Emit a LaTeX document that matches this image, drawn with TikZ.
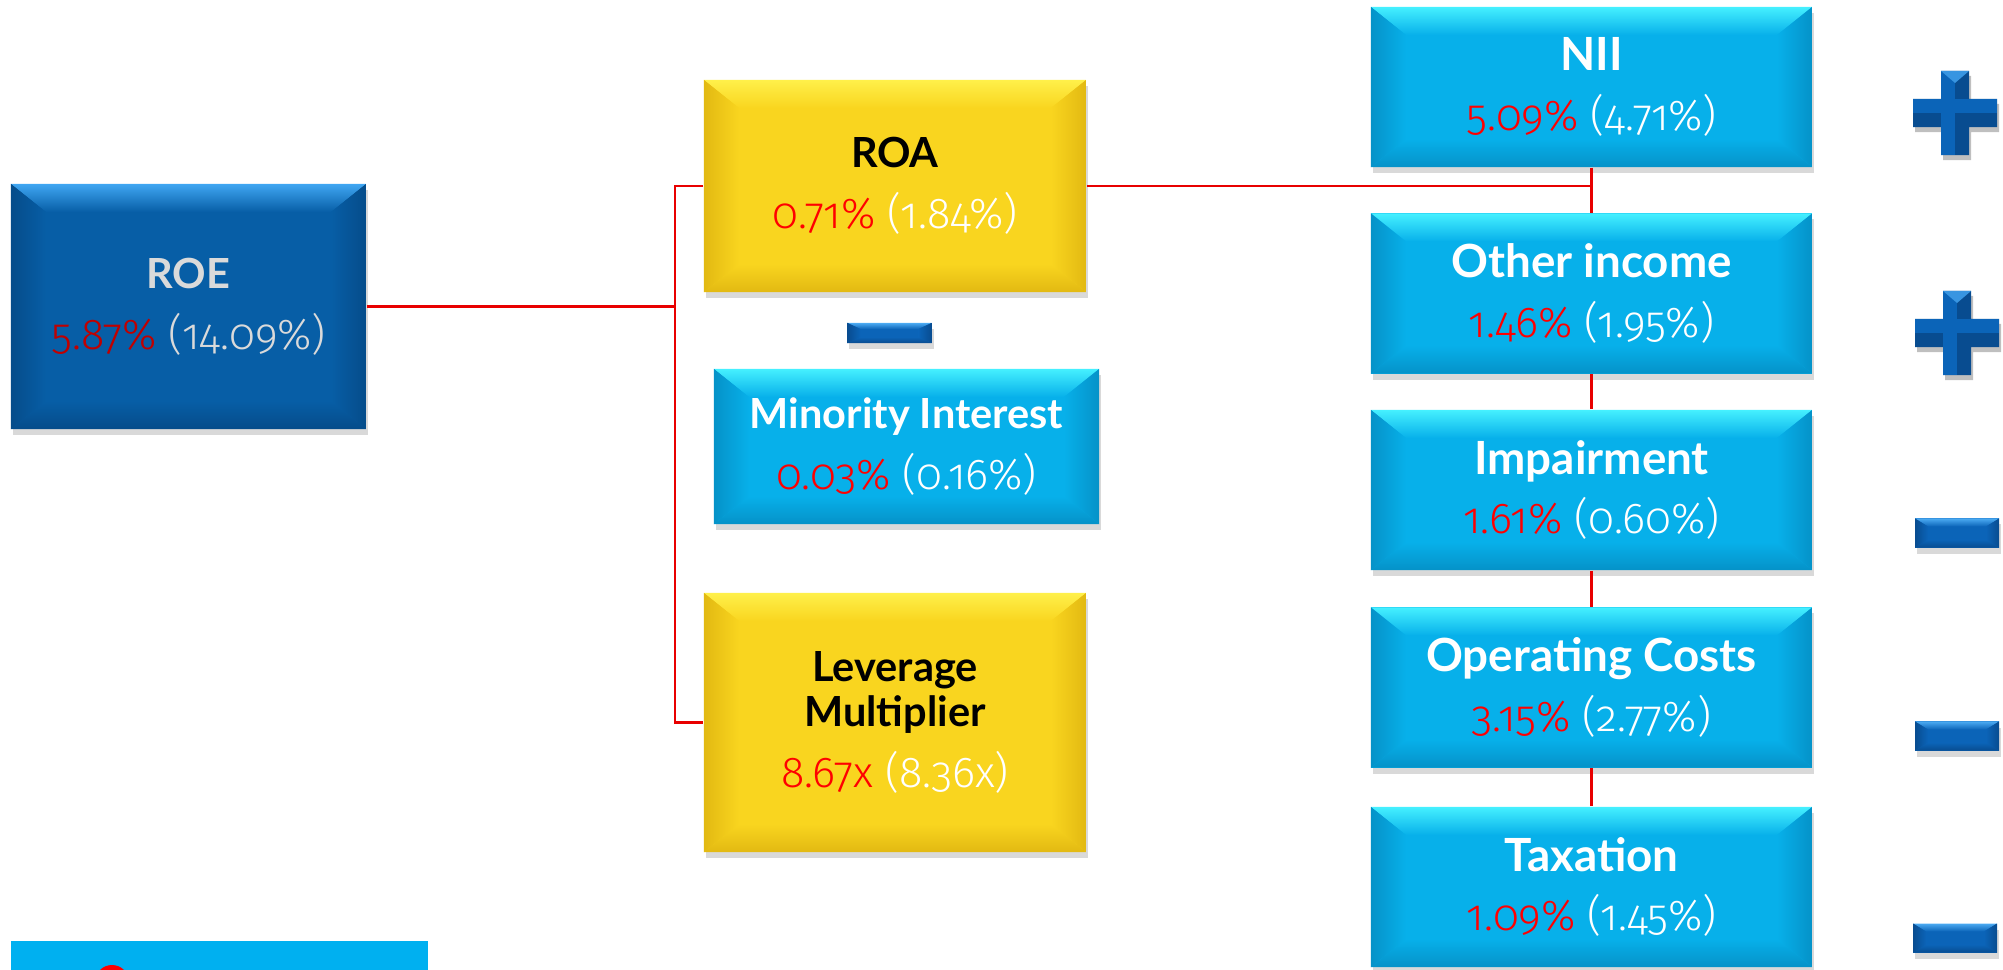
\documentclass[tikz,border=0pt]{standalone}
\usepackage{fontspec}
\setmainfont{Lato}
\newfontfamily\numfont[Numbers=OldStyle]{Fira Sans Light}
\usetikzlibrary{calc,shadows}

\definecolor{roe}{HTML}{075EA6}
\definecolor{roehi}{HTML}{3FA6F2}
\definecolor{roelo}{HTML}{054C8A}
\definecolor{roetxt}{HTML}{DADADA}
\definecolor{roered}{HTML}{C00000}
\definecolor{gold}{HTML}{F9D51F}
\definecolor{goldhi}{HTML}{FFF04A}
\definecolor{goldlo}{HTML}{E2B912}
\definecolor{sky}{HTML}{07B0EA}
\definecolor{skyhi}{HTML}{45F0FF}
\definecolor{skylo}{HTML}{0592C8}
\definecolor{icon}{HTML}{0B64B8}
\definecolor{iconhi}{HTML}{4BAAF2}
\definecolor{iconlo}{HTML}{084C90}
\definecolor{bar}{HTML}{00B0F0}
\definecolor{link}{HTML}{E80000}

\newcommand{\vals}[4]{{\numfont\fontsize{12.3}{13}\selectfont\textcolor{#1}{#3} \textcolor{#2}{(#4)}}}
\newcommand{\crosspath}{(-0.14cm,0.42cm) -- (0.14cm,0.42cm) -- (0.14cm,0.14cm) -- (0.42cm,0.14cm) -- (0.42cm,-0.14cm) -- (0.14cm,-0.14cm) -- (0.14cm,-0.42cm) -- (-0.14cm,-0.42cm) -- (-0.14cm,-0.14cm) -- (-0.42cm,-0.14cm) -- (-0.42cm,0.14cm) -- (-0.14cm,0.14cm) -- cycle}

\tikzset{
  bevel/.code 2 args={\def\bevx{#1}\def\bevy{#2}},
  bevel={0.35cm}{0.28cm},
  card/.style={rectangle, inner sep=0pt, align=center, fill=#1,
    font=\fontsize{11.8}{13}\selectfont,
    drop shadow={shadow xshift=0.02cm, shadow yshift=-0.06cm, opacity=0.3},
    path picture={
      \path (path picture bounding box.north west) coordinate (nw)
            (path picture bounding box.north east) coordinate (ne)
            (path picture bounding box.south east) coordinate (se)
            (path picture bounding box.south west) coordinate (sw);
      \shade[top color=#1hi, bottom color=#1] (nw) -- (ne) -- ($(ne)+(-\bevx,-\bevy)$) -- ($(nw)+(\bevx,-\bevy)$) -- cycle;
      \shade[top color=#1, bottom color=#1lo] (sw) -- (se) -- ($(se)+(-\bevx,\bevy)$) -- ($(sw)+(\bevx,\bevy)$) -- cycle;
      \shade[left color=#1lo, right color=#1] (nw) -- ($(nw)+(\bevx,-\bevy)$) -- ($(sw)+(\bevx,\bevy)$) -- (sw) -- cycle;
      \shade[left color=#1, right color=#1lo] (ne) -- ($(ne)+(-\bevx,-\bevy)$) -- ($(se)+(-\bevx,\bevy)$) -- (se) -- cycle;
    }},
  roebox/.style={card=roe, text=roetxt, minimum width=3.55cm, minimum height=2.45cm},
  goldbox/.style={card=gold, text=black, minimum width=3.82cm},
  skybox/.style={card=sky, text=white, minimum width=4.41cm, minimum height=1.6cm, font=\fontsize{13}{14}\selectfont},
  minusbar/.style={card=icon, bevel={0.13cm}{0.08cm}, minimum width=0.84cm, minimum height=0.29cm},
  wire/.style={draw=link, line width=0.8pt},
  plussign/.pic={
    \fill[black, opacity=0.25, shift={(0.02cm,-0.05cm)}] \crosspath;
    \fill[iconlo] \crosspath;
    \fill[icon] (-0.42cm,0) rectangle (0.42cm,0.14cm);
    \fill[icon] (-0.14cm,-0.42cm) rectangle (0,0.42cm);
    \fill[iconhi!70!icon] (-0.14cm,0.42cm) -- (0.14cm,0.42cm) -- (0,0.3cm) -- cycle;
  },
}

\begin{document}
\begin{tikzpicture}[x=0.01cm, y=-0.01cm]
\clip (0,0) rectangle (2003,970);
\node [roebox] (roe) at (188.5,306.5) {\textbf{ROE}\\[4.4pt]\vals{roered}{roetxt}{5.87\%}{14.09\%}};
\node [goldbox, minimum height=2.12cm] (roa) at (895,186) {\textbf{ROA}\\[4.4pt]\vals{red}{white}{0.71\%}{1.84\%}};
\node [minusbar, minimum height=0.2cm, bevel={0.13cm}{0.06cm}] (m0) at (889.5,333) {};
\node [card=sky, text=white, minimum width=3.85cm, minimum height=1.55cm] (min) at (906.5,446.5) {\textbf{Minority Interest}\\[4.4pt]\vals{red}{white}{0.03\%}{0.16\%}};
\node [goldbox, minimum height=2.59cm] (lev) at (895,722.5) {\textbf{Leverage}\\\textbf{Multiplier}\\[4.4pt]\vals{red}{white}{8.67x}{8.36x}};
\node [skybox] (nii) at (1591.5,87) {\textbf{NII}\\[3pt]\vals{red}{white}{5.09\%}{4.71\%}};
\node [skybox] (oth) at (1591.5,293.5) {\textbf{Other income}\\[3pt]\vals{red}{white}{1.46\%}{1.95\%}};
\node [skybox] (imp) at (1591.5,490) {\textbf{Impairment}\\[3pt]\vals{red}{white}{1.61\%}{0.60\%}};
\node [skybox] (opc) at (1591.5,687.5) {\textbf{Operating Costs}\\[3pt]\vals{red}{white}{3.15\%}{2.77\%}};
\node [skybox] (tax) at (1591.5,887) {\textbf{Taxation}\\[3pt]\vals{red}{white}{1.09\%}{1.45\%}};
\pic at (1955,113) {plussign};
\pic at (1957,333) {plussign};
\node [minusbar] (m1) at (1957,533) {};
\node [minusbar] (m2) at (1957,736) {};
\node [minusbar] (m3) at (1955,938) {};
\coordinate (j1) at (675,306.5);
\draw [wire] (roe.east) -- (j1);
\draw [wire] (roa.west) -| (j1) |- (lev.west);
\draw [wire] (roa.east) -- (roa.east -| nii.south);
\foreach \a/\b in {nii/oth, oth/imp, imp/opc, opc/tax}
  \draw [wire] (\a.south) -- (\b.north);
\fill [bar] (11,941) rectangle (428,1000);
\fill [red] (112,982) circle [radius=0.17cm];
\end{tikzpicture}
\end{document}
